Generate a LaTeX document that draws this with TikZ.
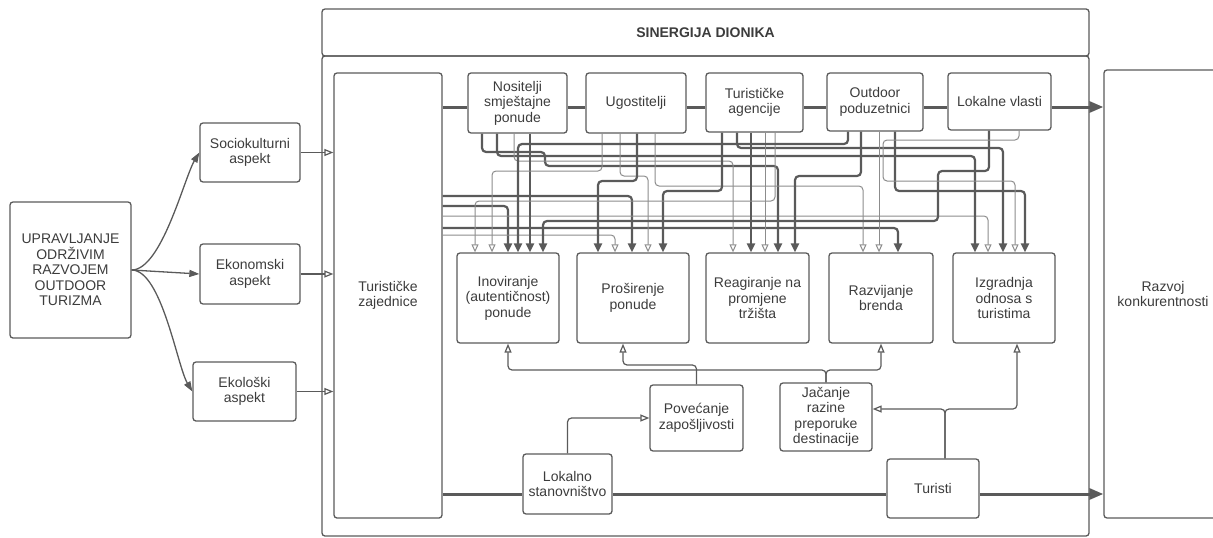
\documentclass[tikz,border=0pt]{standalone}
\usepackage{fontspec}
\setmainfont{Liberation Sans}
\usetikzlibrary{arrows.meta}
\definecolor{ln}{HTML}{5A5A5A}
\definecolor{lt}{HTML}{8C8C8C}
\definecolor{tx}{HTML}{3C3C3C}
\tikzset{
  box/.style={draw=ln, line width=1.3pt, rounded corners=3pt, align=center, text=tx,
    inner sep=1pt, font=\fontsize{14}{15.5}\selectfont},
  frame/.style={draw=ln, line width=1.3pt, rounded corners=3pt},
  arr/.style={draw=ln, line width=1.3pt, -{Triangle[width=7pt,length=10pt]}},
  flow/.style={draw=ln, line width=3pt},
  flowa/.style={flow, -{Triangle[width=11pt,length=14pt]}},
  thk/.style={draw=ln, line width=2.2pt, rounded corners=4pt, -{Triangle[width=8pt,length=9pt]}},
  thn/.style={draw=lt, line width=1pt, rounded corners=4pt, -{Triangle[open,width=7pt,length=8pt]}},
  fb/.style={draw=ln, line width=1.2pt, rounded corners=4pt, -{Triangle[open,width=7pt,length=9pt]}},
}
\begin{document}
\begin{tikzpicture}[x=1pt,y=-1pt]
\useasboundingbox (0,0) rectangle (1213,538);

% left part
\node[box, minimum width=121, minimum height=136] (upr) at (70.5,270)
  {UPRAVLJANJE\\ODRŽIVIM\\RAZVOJEM\\OUTDOOR\\TURIZMA};
\node[box, minimum width=100, minimum height=59] (soc) at (250,152.5) {Sociokulturni\\aspekt};
\node[box, minimum width=100, minimum height=60] (eko) at (250,274) {Ekonomski\\aspekt};
\node[box, minimum width=103, minimum height=59] (ekl) at (244.5,391.5) {Ekološki\\aspekt};

\draw[arr] (upr.east) .. controls +(30,0) and +(-15,25) .. (soc.west);
\draw[arr] (upr.east) -- (eko.west);
\draw[arr] (upr.east) .. controls +(30,0) and +(-15,-25) .. (ekl.west);

% stakeholder frame
\draw[frame] (322,56) rectangle (1089,536);
\node[box, minimum width=767, minimum height=47, font=\fontsize{14}{15.5}\selectfont\bfseries] (sin) at (705.5,32.5) {SINERGIJA DIONIKA};

\node[box, minimum width=108, minimum height=445] (tz) at (388,295.5) {Turističke\\zajednice};
\node[box, minimum width=99, minimum height=60] (nos) at (517.5,103) {Nositelji\\smještajne\\ponude};
\node[box, minimum width=100, minimum height=60] (ugo) at (636,103) {Ugostitelji};
\node[box, minimum width=97, minimum height=59] (age) at (754.5,102.5) {Turističke\\agencije};
\node[box, minimum width=96, minimum height=58] (out) at (875,102) {Outdoor\\poduzetnici};
\node[box, minimum width=103, minimum height=57] (lok) at (999.5,101.5) {Lokalne vlasti};

\node[box, minimum width=102, minimum height=90] (inov) at (508,298) {Inoviranje\\(autentičnost)\\ponude};
\node[box, minimum width=112, minimum height=90] (pros) at (633,298) {Proširenje\\ponude};
\node[box, minimum width=103, minimum height=90] (reag) at (757.5,298) {Reagiranje na\\promjene\\tržišta};
\node[box, minimum width=104, minimum height=90] (razv) at (881,298) {Razvijanje\\brenda};
\node[box, minimum width=102, minimum height=90] (izg) at (1004,298) {Izgradnja\\odnosa s\\turistima};

\node[box, minimum width=93, minimum height=66] (pov) at (696.5,418) {Povećanje\\zapošljivosti};
\node[box, minimum width=92, minimum height=68] (jac) at (826,417) {Jačanje\\razine\\preporuke\\destinacije};
\node[box, minimum width=89, minimum height=60] (lokst) at (567.5,484) {Lokalno\\stanovništvo};
\node[box, minimum width=92, minimum height=59] (tur) at (933,488.5) {Turisti};

\node[box, minimum width=118, minimum height=448] (raz) at (1163,294) {Razvoj\\konkurentnosti};

% aspects into the frame
\draw[fb] (soc.east) -- (soc.east -| tz.west);
\draw[fb] (eko.east) -- (eko.east -| tz.west);
\draw[fb] (ekl.east) -- (ekl.east -| tz.west);

% main flows
\coordinate (top) at (442,107);
\draw[flow] (tz.east |- top) -- (nos.west |- top);
\draw[flow] (nos.east |- top) -- (ugo.west |- top);
\draw[flow] (ugo.east |- top) -- (age.west |- top);
\draw[flow] (age.east |- top) -- (out.west |- top);
\draw[flow] (out.east |- top) -- (lok.west |- top);
\draw[flowa] (lok.east |- top) -- (raz.west |- top);
\coordinate (bot) at (442,494);
\draw[flow] (tz.east |- bot) -- (lokst.west |- bot);
\draw[flow] (lokst.east |- bot) -- (tur.west |- bot);
\draw[flowa] (tur.east |- bot) -- (raz.west |- bot);

% wires from Turisticke zajednice
\draw[thk] (tz.east |- 0,196) -- (632,196) -- (632,0 |- pros.north);
\draw[thk] (tz.east |- 0,206) -- (508,206) -- (508,0 |- inov.north);
\draw[thn] (tz.east |- 0,216) -- (988,216) -- (988,0 |- izg.north);
\draw[thk] (tz.east |- 0,228) -- (898,228) -- (898,0 |- razv.north);
\draw[thn] (tz.east |- 0,235) -- (615,235) -- (615,0 |- pros.north);

% wires from Nositelji
\draw[thk] (482,0 |- nos.south) -- (482,152) -- (545,152) -- (545,166) -- (778,166) -- (778,0 |- reag.north);
\draw[thk] (497,0 |- nos.south) -- (497,156) -- (975,156) -- (975,0 |- izg.north);
\draw[thn] (514,0 |- nos.south) -- (514,161) -- (733,161) -- (733,0 |- reag.north);
\draw[thk] (530,0 |- nos.south) -- (530,0 |- inov.north);

% wires from Ugostitelji
\draw[thn] (602,0 |- ugo.south) -- (602,171) -- (492,171) -- (492,0 |- inov.north);
\draw[thn] (620,0 |- ugo.south) -- (620,176) -- (648,176) -- (648,0 |- pros.north);
\draw[thk] (637,0 |- ugo.south) -- (637,181) -- (598,181) -- (598,0 |- pros.north);
\draw[thn] (655,0 |- ugo.south) -- (655,186) -- (863,186) -- (863,0 |- razv.north);

% wires from agencije
\draw[thk] (722,0 |- age.south) -- (722,191) -- (663,191) -- (663,0 |- pros.north);
\draw[thk] (737,0 |- age.south) -- (737,148) -- (1003,148) -- (1003,0 |- izg.north);
\draw[thk] (751,0 |- age.south) -- (751,0 |- reag.north);
\draw[thn] (765,0 |- age.south) -- (765,0 |- reag.north);
\draw[thn] (775,0 |- age.south) -- (775,201) -- (475,201) -- (475,0 |- inov.north);

% wires from Outdoor poduzetnici
\draw[thk] (848,0 |- out.south) -- (848,144) -- (518,144) -- (518,0 |- inov.north);
\draw[thk] (861,0 |- out.south) -- (861,176) -- (795,176) -- (795,0 |- reag.north);
\draw[thn] (879,0 |- out.south) -- (879,0 |- razv.north);
\draw[thk] (895,0 |- out.south) -- (895,191) -- (1025,191) -- (1025,0 |- izg.north);

% wires from Lokalne vlasti
\draw[thk] (989,0 |- lok.south) -- (989,171) -- (938,171) -- (938,221) -- (543,221) -- (543,0 |- inov.north);
\draw[thn] (1019,0 |- lok.south) -- (1019,140) -- (883,140) -- (883,181) -- (1015,181) -- (1015,0 |- izg.north);

% feedback
\draw[fb] (pov.north) -- (pov.north |- 0,365) -| ([xshift=-10pt]pros.south);
\draw[fb] (jac.north) -- (jac.north |- 0,370) -| (inov.south);
\draw[fb] (jac.north) -- (jac.north |- 0,370) -| (razv.south);
\draw[fb] ([xshift=12pt]tur.north) -- ([xshift=12pt]tur.north |- 0,409) -- (jac.east |- 0,409);
\draw[fb] ([xshift=12pt]tur.north) -- ([xshift=12pt]tur.north |- 0,409) -| ([xshift=13pt]izg.south);
\draw[fb] (lokst.north) |- (pov.west);
\end{tikzpicture}
\end{document}
